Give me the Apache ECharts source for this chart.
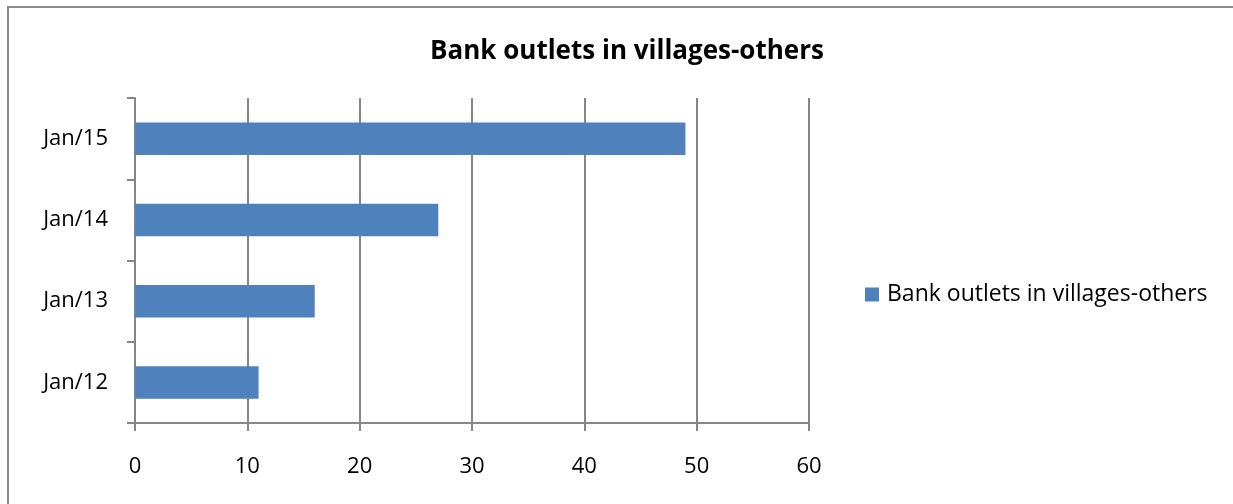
<!DOCTYPE html>
<html>
<head>
<meta charset="utf-8">
<script src="https://cdn.jsdelivr.net/npm/echarts@6/dist/echarts.min.js"></script>
<style>
  html, body { margin: 0; padding: 0; background: #fff; overflow: hidden; }
  #frame { position: absolute; left: 7px; top: 6px; width: 1240px; height: 520px; border: 2px solid #8a8a8a; box-sizing: border-box; }
  #chart { position: absolute; left: 0; top: 0; width: 1233px; height: 504px; }
</style>
</head>
<body>
<div id="frame"></div>
<div id="chart"></div>
<script>
// data
var categories = ["Jan/12", "Jan/13", "Jan/14", "Jan/15"];
var outlets = [11, 16, 27, 49];
var seriesName = "Bank outlets in villages-others";
var titleText = "Bank outlets in villages-others";

var chart = echarts.init(document.getElementById("chart"));
var font = "Open Sans";
var option = {
  animation: false,
  backgroundColor: "transparent",
  title: {
    text: titleText,
    left: 622,
    textAlign: "center",
    top: 34,
    textStyle: { fontFamily: font, fontSize: 26, fontWeight: "bold", color: "#000" }
  },
  legend: {
    data: [seriesName],
    left: 860,
    top: 278,
    icon: "rect",
    itemWidth: 14,
    itemHeight: 14,
    itemGap: 8,
    textStyle: { fontFamily: font, fontSize: 23, color: "#000", padding: [0, 0, 0, 3] }
  },
  grid: { left: 135, right: 424, top: 98, bottom: 81, containLabel: false },
  xAxis: {
    type: "value",
    min: 0,
    max: 60,
    interval: 10,
    axisLine: { show: true, lineStyle: { color: "#868686", width: 2 } },
    axisTick: { show: true, length: 8, lineStyle: { color: "#868686", width: 2 } },
    splitLine: { show: true, lineStyle: { color: "#868686", width: 2 } },
    axisLabel: { fontFamily: font, fontSize: 22, color: "#000", margin: 33 }
  },
  yAxis: {
    type: "category",
    data: categories,
    axisLine: { show: true, lineStyle: { color: "#868686", width: 2 } },
    axisTick: { show: true, length: 8, lineStyle: { color: "#868686", width: 2 } },
    axisLabel: { fontFamily: font, fontSize: 22, color: "#000", margin: 27 }
  },
  series: [
    {
      name: seriesName,
      type: "bar",
      data: outlets,
      barWidth: "40%",
      itemStyle: { color: "#4F81BD" }
    }
  ]
};
chart.setOption(option);
</script>
</body>
</html>
